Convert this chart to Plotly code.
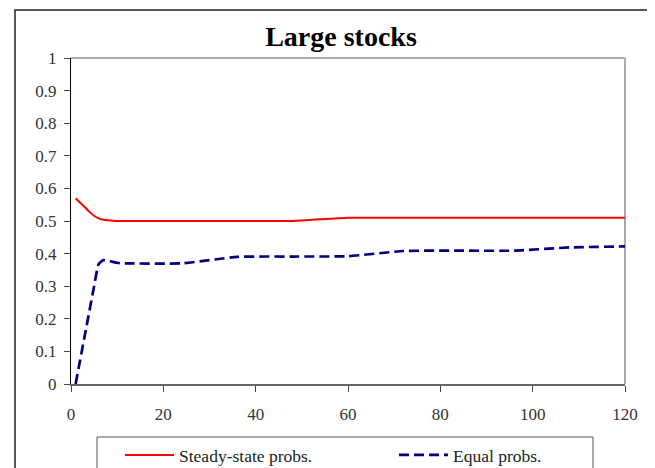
import plotly.graph_objects as go

# ---- data ----
horizon = [1, 2, 3, 4, 5, 6, 7, 8, 9, 10, 11, 12, 24, 36, 48, 60, 72, 84, 96, 108, 120]
steady_state = [0.570, 0.556, 0.542, 0.528, 0.516, 0.508, 0.504, 0.502, 0.501, 0.500, 0.500, 0.500,
                0.500, 0.500, 0.500, 0.510, 0.510, 0.510, 0.510, 0.510, 0.510]
equal_probs = [0.000, 0.075, 0.150, 0.225, 0.300, 0.368, 0.380, 0.378, 0.375, 0.372, 0.370, 0.370,
               0.370, 0.390, 0.391, 0.392, 0.408, 0.409, 0.409, 0.419, 0.422]
series_names = ["Steady-state probs.", "Equal probs."]
title_text = "Large stocks"
y_tickvals = [0, 0.1, 0.2, 0.3, 0.4, 0.5, 0.6, 0.7, 0.8, 0.9, 1]
y_ticktext = ["0", "0.1", "0.2", "0.3", "0.4", "0.5", "0.6", "0.7", "0.8", "0.9", "1"]
x_tickvals = [0, 20, 40, 60, 80, 100, 120]

SERIF = "Liberation Serif, Times New Roman, serif"

fig = go.Figure()
fig.add_trace(go.Scatter(x=horizon, y=steady_state, mode="lines", name=series_names[0],
                         line=dict(color="#FF0000", width=2, shape="spline", smoothing=0.45)))
fig.add_trace(go.Scatter(x=horizon, y=equal_probs, mode="lines", name=series_names[1],
                         line=dict(color="#000080", width=2.7, dash="10px,5px", shape="spline", smoothing=0.45)))

# the page adds an 8px body margin, so figure coords = page coords - 8
OFF = 8
W, H = 647, 460
L, R, T, B = 71 - OFF, 625 - OFF, 58 - OFF, 384 - OFF
pw, ph = R - L, B - T

def px2paper_x(page_px):
    return (page_px - OFF - L) / pw

def px2paper_y(page_py):
    return (B - (page_py - OFF)) / ph

fig.update_layout(
    width=W, height=H,
    margin=dict(l=L, r=W - R, t=T, b=H - B, pad=0, autoexpand=False),
    paper_bgcolor="white", plot_bgcolor="white",
    font=dict(family=SERIF, size=16, color="#333333"),
    title=dict(text="<b>" + title_text + "</b>", x=px2paper_x(341), xref="paper", xanchor="center",
               y=1 - (36 - OFF) / H, yanchor="middle", font=dict(family=SERIF, size=28, color="black")),
    showlegend=True,
    legend=dict(orientation="h", x=px2paper_x(120), xanchor="left", y=px2paper_y(437), yanchor="top",
                borderwidth=0, bgcolor="rgba(0,0,0,0)",
                font=dict(family=SERIF, size=17.5, color="#222222"),
                entrywidth=210, entrywidthmode="pixels", itemwidth=49),
    xaxis=dict(range=[0, 120], tickvals=x_tickvals, showgrid=False, zeroline=False,
               showline=True, linecolor="#666666", linewidth=2,
               ticks="outside", ticklen=6, tickcolor="#444444", tickwidth=1,
               ticklabelstandoff=8, tickfont=dict(family=SERIF, size=17, color="#333333")),
    yaxis=dict(range=[0, 1], tickvals=y_tickvals, ticktext=y_ticktext, showgrid=False, zeroline=False,
               showline=True, linecolor="black", linewidth=1,
               ticks="outside", ticklen=6, tickcolor="#444444", tickwidth=1,
               ticklabelstandoff=4, tickfont=dict(family=SERIF, size=17, color="#333333")),
)

# plot-area top/right border (gray), outer chart frame, legend frame
fig.add_shape(type="line", xref="paper", yref="paper", x0=0, x1=1, y0=1, y1=1,
              line=dict(color="#AAAAAA", width=2), layer="below")
fig.add_shape(type="line", xref="paper", yref="paper", x0=1, x1=1, y0=0, y1=1,
              line=dict(color="#AAAAAA", width=2), layer="below")
fig.add_shape(type="rect", xref="paper", yref="paper",
              x0=px2paper_x(15), x1=px2paper_x(653), y0=px2paper_y(490), y1=px2paper_y(10),
              line=dict(color="#222222", width=1.5), fillcolor="rgba(0,0,0,0)", layer="below")
fig.add_shape(type="rect", xref="paper", yref="paper",
              x0=px2paper_x(97), x1=px2paper_x(593), y0=px2paper_y(490), y1=px2paper_y(437),
              line=dict(color="#555555", width=1), fillcolor="rgba(0,0,0,0)", layer="below")

fig.write_html("out.html")
